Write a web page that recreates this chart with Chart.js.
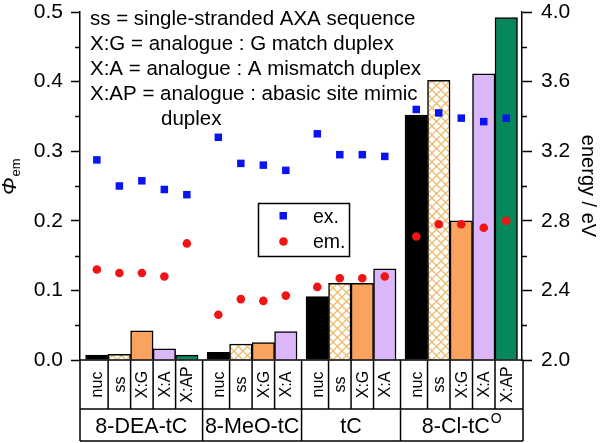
<!DOCTYPE html>
<html>
<head>
<meta charset="utf-8">
<script src="https://cdn.jsdelivr.net/npm/chart.js@4/dist/chart.umd.min.js"></script>
<style>
  html, body { margin: 0; padding: 0; background: #fff; }
  canvas { display: block; }
</style>
</head>
<body>
<canvas id="chart" width="600" height="443"></canvas>
<script>
// Chart data
const groupNames = ['8-DEA-tC', '8-MeO-tC', 'tC', '8-Cl-tC'];
const groupSup = ['', '', '', 'O'];
const groupMembers = [
    ['nuc', 'ss', 'X:G', 'X:A', 'X:AP'],
    ['nuc', 'ss', 'X:G', 'X:A'],
    ['nuc', 'ss', 'X:G', 'X:A'],
    ['nuc', 'ss', 'X:G', 'X:A', 'X:AP']
];
// quantum yield (left axis)
const phiEm = [
    [0.007, 0.008, 0.042, 0.016, 0.007],
    [0.011, 0.023, 0.025, 0.041],
    [0.091, 0.110, 0.110, 0.131],
    [0.352, 0.402, 0.200, 0.411, 0.492]
];
// energies in eV (right axis)
const exEnergy = [
    [3.15, 3.00, 3.03, 2.98, 2.95],
    [3.28, 3.13, 3.12, 3.09],
    [3.30, 3.18, 3.18, 3.17],
    [3.44, 3.42, 3.39, 3.37, 3.39]
];
const emEnergy = [
    [2.52, 2.50, 2.50, 2.48, 2.67],
    [2.26, 2.35, 2.34, 2.37],
    [2.42, 2.47, 2.47, 2.48],
    [2.71, 2.78, 2.78, 2.76, 2.80]
];
const phiTicks = [0, 0.1, 0.2, 0.3, 0.4, 0.5];
const energyTicks = [2.0, 2.4, 2.8, 3.2, 3.6, 4.0];
const noteLines = [
    'ss = single-stranded AXA sequence',
    'X:G = analogue : G match duplex',
    'X:A = analogue : A mismatch duplex',
    'X:AP = analogue : abasic site mimic',
    'duplex'
];

const FONT = "'Liberation Sans', Arial, sans-serif";
const GROUP_GAP = 0.4;

function makeHatch() {
    const c = document.createElement('canvas');
    c.width = c.height = 9;
    const g = c.getContext('2d');
    g.fillStyle = '#ffffff';
    g.fillRect(0, 0, 9, 9);
    g.strokeStyle = '#ecbb6c';
    g.lineWidth = 1.3;
    g.beginPath();
    g.moveTo(0, 0); g.lineTo(9, 9);
    g.moveTo(9, 0); g.lineTo(0, 9);
    g.stroke();
    return g.createPattern(c, 'repeat');
}

const memberColors = {
    'nuc': '#000000',
    'ss': makeHatch(),
    'X:G': '#f9a35f',
    'X:A': '#dbb6f9',
    'X:AP': '#07885a'
};

// x positions: one unit per bar, small gap between groups
const xPos = [];
let pos = 0;
groupMembers.forEach(members => {
    const xs = [];
    members.forEach(() => { xs.push(pos); pos += 1; });
    xPos.push(xs);
    pos += GROUP_GAP;
});

const barData = [], barColors = [], exData = [], emData = [];
groupMembers.forEach((members, g) => {
    members.forEach((m, i) => {
        barData.push({ x: xPos[g][i], y: phiEm[g][i] });
        barColors.push(memberColors[m]);
        exData.push({ x: xPos[g][i], y: exEnergy[g][i] });
        emData.push({ x: xPos[g][i], y: emEnergy[g][i] });
    });
});

const extrasPlugin = {
    id: 'extras',
    afterDraw(chart) {
        const ctx = chart.ctx;
        const x = chart.scales.x, yL = chart.scales.y, yR = chart.scales.y2;
        const area = chart.chartArea;
        ctx.save();
        ctx.strokeStyle = '#000';
        ctx.fillStyle = '#000';
        ctx.lineWidth = 1.5;

        // minor ticks
        ctx.beginPath();
        for (let v = 0.05; v < 0.5; v += 0.1) {
            const py = Math.round(yL.getPixelForValue(v)) + 0.5;
            ctx.moveTo(area.left, py); ctx.lineTo(area.left - 5, py);
        }
        for (let v = 2.2; v < 4.0; v += 0.4) {
            const py = Math.round(yR.getPixelForValue(v)) + 0.5;
            ctx.moveTo(area.right, py); ctx.lineTo(area.right + 5, py);
        }
        ctx.stroke();

        // category table under the plot
        const rowTop = area.bottom, rowMid = 409, rowBot = 441;
        const tLeft = area.left, tRight = area.right + 1;
        ctx.beginPath();
        ctx.moveTo(tLeft, rowTop); ctx.lineTo(tRight, rowTop);
        ctx.moveTo(tLeft, rowMid); ctx.lineTo(tRight, rowMid);
        ctx.moveTo(tLeft, rowBot); ctx.lineTo(tRight, rowBot);
        ctx.moveTo(tLeft, rowTop); ctx.lineTo(tLeft, rowBot);
        ctx.moveTo(tRight, rowTop); ctx.lineTo(tRight, rowBot);
        ctx.stroke();

        groupMembers.forEach((members, g) => {
            const xs = xPos[g].map(v => x.getPixelForValue(v));
            const gLeft = g === 0 ? tLeft : (x.getPixelForValue(xPos[g - 1][xPos[g - 1].length - 1]) + xs[0]) / 2;
            const gRight = g === groupMembers.length - 1 ? tRight : (xs[xs.length - 1] + x.getPixelForValue(xPos[g + 1][0])) / 2;
            ctx.beginPath();
            if (g > 0) { ctx.moveTo(gLeft, rowTop); ctx.lineTo(gLeft, rowBot); }
            for (let i = 1; i < xs.length; i++) {
                const b = (xs[i - 1] + xs[i]) / 2;
                ctx.moveTo(b, rowTop); ctx.lineTo(b, rowMid);
            }
            ctx.stroke();

            // rotated member labels
            ctx.font = '16px ' + FONT;
            ctx.textAlign = 'center';
            ctx.textBaseline = 'middle';
            members.forEach((m, i) => {
                ctx.save();
                ctx.translate(xs[i] + 1, (rowTop + rowMid) / 2);
                ctx.rotate(-Math.PI / 2);
                ctx.fillText(m, 0, 0);
                ctx.restore();
            });

            // group label (with optional superscript)
            ctx.font = '21.5px ' + FONT;
            const main = groupNames[g];
            const wMain = ctx.measureText(main).width;
            ctx.font = '14px ' + FONT;
            const wSup = groupSup[g] ? ctx.measureText(groupSup[g]).width + 1 : 0;
            const cx = (gLeft + gRight) / 2;
            const start = cx - (wMain + wSup) / 2;
            ctx.textAlign = 'left';
            ctx.textBaseline = 'alphabetic';
            ctx.font = '21.5px ' + FONT;
            ctx.fillText(main, start, 433);
            if (groupSup[g]) {
                ctx.font = '14px ' + FONT;
                ctx.fillText(groupSup[g], start + wMain + 1, 423);
            }
        });

        // notes in upper left
        ctx.font = '20.5px ' + FONT;
        ctx.textAlign = 'left';
        ctx.textBaseline = 'alphabetic';
        noteLines.forEach((t, i) => {
            ctx.fillText(t, i === 4 ? 161 : 90, 25 + i * 25);
        });

        // legend box
        ctx.lineWidth = 1.5;
        ctx.strokeRect(258.5, 203.5, 91, 53);
        ctx.fillStyle = '#0a14f0';
        ctx.fillRect(279.5, 212, 7.5, 7.5);
        ctx.fillStyle = '#f01414';
        ctx.beginPath();
        ctx.arc(283.5, 241.5, 4.3, 0, Math.PI * 2);
        ctx.fill();
        ctx.fillStyle = '#000';
        ctx.font = '19.5px ' + FONT;
        ctx.fillText('ex.', 313, 223);
        ctx.fillText('em.', 313, 248);

        // axis titles
        ctx.save();
        ctx.translate(16, 195);
        ctx.rotate(-Math.PI / 2);
        ctx.textAlign = 'left';
        ctx.font = 'italic 21px ' + FONT;
        ctx.fillText('\u03A6', 0, 0);
        const wPhi = ctx.measureText('\u03A6').width;
        ctx.font = '13px ' + FONT;
        ctx.fillText('em', wPhi + 1, 4);
        ctx.restore();

        ctx.save();
        ctx.translate(582, (area.top + area.bottom) / 2);
        ctx.rotate(Math.PI / 2);
        ctx.textAlign = 'center';
        ctx.font = '20px ' + FONT;
        ctx.fillText('energy / eV', 0, 0);
        ctx.restore();

        ctx.restore();
    }
};

function fixWidth(w) {
    return scale => {
        scale.width = w;
        scale.paddingTop = 0;
        scale.paddingBottom = 0;
    };
}

new Chart(document.getElementById('chart'), {
    type: 'bar',
    data: {
        datasets: [
            {
                type: 'line',
                label: 'ex.',
                data: exData,
                yAxisID: 'y2',
                showLine: false,
                pointStyle: 'rect',
                pointRadius: 5.3,
                pointBackgroundColor: '#0a14f0',
                pointBorderWidth: 0,
                order: 0
            },
            {
                type: 'line',
                label: 'em.',
                data: emData,
                yAxisID: 'y2',
                showLine: false,
                pointStyle: 'circle',
                pointRadius: 4.3,
                pointBackgroundColor: '#f01414',
                pointBorderWidth: 0,
                order: 1
            },
            {
                label: 'Phi',
                data: barData,
                yAxisID: 'y',
                backgroundColor: barColors,
                borderColor: '#000',
                borderWidth: 1.5,
                barPercentage: 1,
                categoryPercentage: 1,
                order: 2
            }
        ]
    },
    options: {
        responsive: false,
        animation: false,
        devicePixelRatio: 1,
        layout: { padding: { top: 12, bottom: 83, left: 0, right: 0 } },
        plugins: {
            legend: { display: false },
            tooltip: { enabled: false }
        },
        scales: {
            x: {
                type: 'linear',
                min: -0.75,
                max: 18.9,
                offset: false,
                display: false,
                afterBuildTicks: scale => { scale.ticks = xPos.flat().map(v => ({ value: v })); }
            },
            y: {
                position: 'left',
                min: 0,
                max: 0.5,
                afterBuildTicks: scale => { scale.ticks = phiTicks.map(v => ({ value: v })); },
                afterFit: fixWidth(80),
                ticks: {
                    callback: v => v.toFixed(1),
                    color: '#000',
                    font: { family: FONT, size: 21 },
                    padding: 8
                },
                grid: { drawOnChartArea: false, tickLength: 9, tickColor: '#000', tickWidth: 1.5 },
                border: { display: true, color: '#000', width: 1.5 }
            },
            y2: {
                position: 'right',
                min: 2.0,
                max: 4.0,
                afterBuildTicks: scale => { scale.ticks = energyTicks.map(v => ({ value: v })); },
                afterFit: fixWidth(78),
                ticks: {
                    callback: v => v.toFixed(1),
                    color: '#000',
                    font: { family: FONT, size: 21 },
                    padding: 9
                },
                grid: { drawOnChartArea: false, tickLength: 10, tickColor: '#000', tickWidth: 1.5 },
                border: { display: true, color: '#000', width: 1.5 }
            }
        }
    },
    plugins: [extrasPlugin]
});
</script>
</body>
</html>
